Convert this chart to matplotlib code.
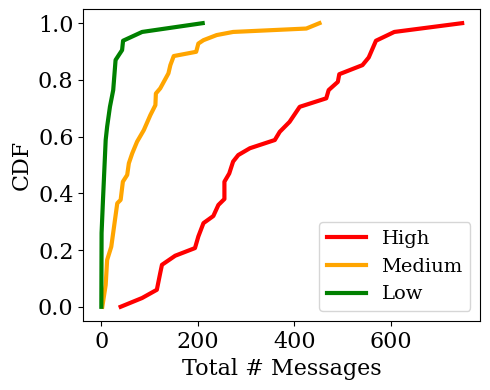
import matplotlib
matplotlib.use("Agg")
import matplotlib.pyplot as plt

plt.rcParams['font.family'] = ['DejaVu Serif']

high_x = [40, 84.5, 115, 122, 125.6, 153, 194, 201, 211.6, 232, 242.5, 255, 255, 265, 273, 283.7,
          307.8, 359.4, 369.7, 390, 411, 466, 471, 490, 493, 541, 554, 569, 607, 747.6]
high_y = [0.0, 0.031, 0.06, 0.119, 0.148, 0.18, 0.207, 0.248, 0.295, 0.32, 0.359, 0.38, 0.441, 0.47,
          0.512, 0.535, 0.559, 0.588, 0.617, 0.652, 0.705, 0.735, 0.764, 0.793, 0.82, 0.852, 0.879,
          0.938, 0.969, 1.0]

med_x = [2, 9, 12, 20.6, 33, 40, 44.6, 53.6, 57, 64, 74, 88, 101.6, 112, 113, 122, 139, 143, 150,
         196.5, 201, 211.6, 239, 273, 424.7, 452]
med_y = [0.0, 0.077, 0.165, 0.212, 0.365, 0.377, 0.441, 0.465, 0.506, 0.541, 0.582, 0.623, 0.676,
         0.711, 0.752, 0.77, 0.823, 0.852, 0.884, 0.899, 0.928, 0.94, 0.958, 0.969, 0.981, 1.0]

low_x = [0, 0.5, 3.4, 9, 12, 17.8, 24.6, 29.5, 36, 43, 45, 84.5, 210]
low_y = [0.0, 0.26, 0.377, 0.588, 0.635, 0.705, 0.764, 0.87, 0.887, 0.905, 0.938, 0.969, 1.0]

fig, ax = plt.subplots(figsize=(4.9, 3.9), dpi=100)
ax.plot(high_x, high_y, color='red', lw=3, label='High')
ax.plot(med_x, med_y, color='orange', lw=3, label='Medium')
ax.plot(low_x, low_y, color='green', lw=3, label='Low')
ax.set_xlabel('Total # Messages', fontsize=16)
ax.set_ylabel('CDF', fontsize=16)
ax.tick_params(labelsize=16)
ax.set_xticks([0, 200, 400, 600])
ax.set_yticks([0.0, 0.2, 0.4, 0.6, 0.8, 1.0])
ax.legend(loc='lower right', fontsize=14)
fig.subplots_adjust(left=0.17, right=0.98, bottom=0.177, top=0.977)
fig.savefig('out.png', dpi=100)
